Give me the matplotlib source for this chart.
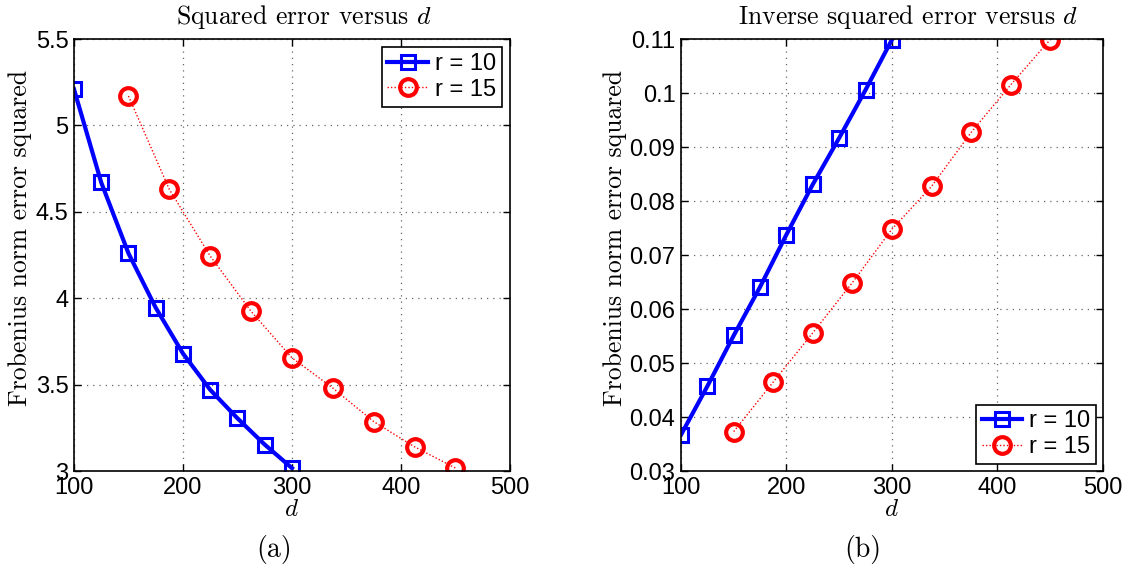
import matplotlib
matplotlib.use("Agg")
import matplotlib.pyplot as plt

plt.rcParams["mathtext.fontset"] = "cm"

# data
d_r10 = [100, 125, 150, 175, 200, 225, 250, 275, 300]
d_r15 = [150, 187.5, 225, 262.5, 300, 337.5, 375, 412.5, 450]

sq_err_r10 = [5.21, 4.67, 4.26, 3.945, 3.68, 3.47, 3.305, 3.153, 3.017]
sq_err_r15 = [5.17, 4.63, 4.244, 3.924, 3.655, 3.48, 3.286, 3.14, 3.017]

inv_err_r10 = [0.0367, 0.0457, 0.0551, 0.0641, 0.0738, 0.0831, 0.0917, 0.1006, 0.1099]
inv_err_r15 = [0.0373, 0.0465, 0.0556, 0.0649, 0.0748, 0.0827, 0.0927, 0.1015, 0.1099]

xticks = [100, 200, 300, 400, 500]
yticks_a = [3, 3.5, 4, 4.5, 5, 5.5]
yticks_b = [0.03, 0.04, 0.05, 0.06, 0.07, 0.08, 0.09, 0.1, 0.11]
ytick_labels_b = ["0.03", "0.04", "0.05", "0.06", "0.07", "0.08", "0.09", "0.1", "0.11"]

TICK_FONT = "Liberation Sans"
SERIF = "cmr10"

fig = plt.figure(figsize=(11.31, 5.69), dpi=100)
ax_a = fig.add_axes([0.0654, 0.1722, 0.3855, 0.7592])
ax_b = fig.add_axes([0.6021, 0.1722, 0.3731, 0.7592])


def draw(ax, y10, y15, yticks, ylabels, ylim, title, title_x, ylabel_x, legend_loc, legend_pad):
    ax.plot(d_r10, y10, color="#0000ff", linewidth=3, marker="s", markersize=10,
            markerfacecolor="none", markeredgewidth=2.2, label="r = 10")
    ax.plot(d_r15, y15, color="#ff0000", linewidth=1.0, linestyle=(0, (1, 1.5)), marker="o",
            markersize=12, markerfacecolor="none", markeredgewidth=3, label="r = 15")
    ax.set_xlim(100, 500)
    ax.set_ylim(*ylim)
    ax.set_xticks(xticks)
    ax.set_yticks(yticks)
    ax.set_xticklabels([str(t) for t in xticks], fontfamily=TICK_FONT, fontsize=17)
    ax.set_yticklabels(ylabels, fontfamily=TICK_FONT, fontsize=17)
    ax.tick_params(direction="in", top=True, right=True, length=5, width=1, pad=4)
    ax.grid(True, color="#666666", linestyle=(0, (1, 4)), linewidth=0.9)
    for sp in ax.spines.values():
        sp.set_linewidth(1.2)
    ax.set_title(title, fontfamily=SERIF, fontsize=18.5, pad=11, x=title_x)
    ax.set_xlabel(r"$d$", fontsize=18, labelpad=-1)
    ax.set_ylabel("Frobenius norm error squared", fontfamily=SERIF, fontsize=18.5)
    ax.yaxis.set_label_coords(ylabel_x, 0.54)
    leg = ax.legend(loc=legend_loc, prop={"family": TICK_FONT, "size": 17},
                    fancybox=False, edgecolor="black", framealpha=1,
                    handlelength=1.7, handletextpad=0.3, borderpad=0.25,
                    labelspacing=0.15, borderaxespad=legend_pad)
    leg.get_frame().set_linewidth(1.2)


draw(ax_a, sq_err_r10, sq_err_r15, yticks_a, [str(t) for t in yticks_a], (3, 5.5),
     r"Squared error versus $d$", 0.526, -0.096, "upper right", 0.35)
draw(ax_b, inv_err_r10, inv_err_r15, yticks_b, ytick_labels_b, (0.03, 0.11),
     r"Inverse squared error versus $d$", 0.538, -0.128, "lower right", 0.3)

fig.text(0.2423, 0.034, "(a)", fontfamily=SERIF, fontsize=20, ha="center", va="center")
fig.text(0.763, 0.034, "(b)", fontfamily=SERIF, fontsize=20, ha="center", va="center")

fig.savefig("out.png", dpi=100)
